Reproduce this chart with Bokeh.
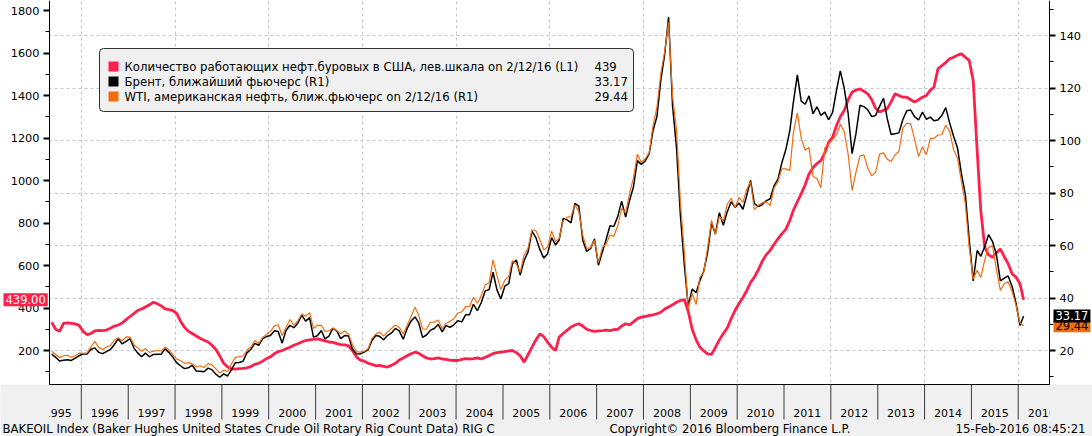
import pandas as pd
from bokeh.plotting import figure
from bokeh.models import (Range1d, LinearAxis, DatetimeAxis, SingleIntervalTicker, FixedTicker,
                          Grid, BoxAnnotation, Label, DatetimeTickFormatter)
from bokeh.embed import file_html
from bokeh.resources import INLINE

# ---------------- data (monthly, May 1995 .. Feb 12 2016) ----------------
rig = [
    333, 300, 290, 328, 330, 328, 325, 318,
    290, 275, 280, 292, 295, 294, 296, 305, 315, 320, 330, 345,
    360, 375, 388, 395, 405, 415, 427, 420, 410, 396, 392, 388,
    374, 335, 310, 290, 280, 268, 258, 248, 240, 225, 205, 175,
    140, 122, 114, 112, 115, 116, 118, 125, 135, 140, 150, 162,
    170, 185, 195, 200, 208, 215, 225, 232, 240, 247, 250, 252,
    255, 250, 245, 240, 238, 232, 228, 226, 222, 200, 170, 155,
    150, 140, 135, 128, 130, 125, 122, 130, 140, 155, 165, 175,
    185, 192, 188, 175, 165, 160, 162, 165, 160, 158, 155, 153,
    153, 158, 162, 160, 162, 165, 160, 168, 176, 185, 190, 192,
    195, 198, 200, 190, 175, 145, 180, 216, 250, 278, 265, 239,
    215, 200, 263, 280, 295, 310, 320, 326, 315, 300, 294, 290,
    292, 294, 296, 294, 298, 300, 315, 326, 320, 335, 350, 357,
    360, 365, 368, 373, 380, 395, 405, 415, 427, 435, 440, 385,
    300, 250, 216, 198, 184, 182, 215, 250, 280, 305, 350, 388,
    420, 450, 480, 520, 545, 580, 620, 650, 671, 700, 725, 749,
    770, 812, 860, 900, 937, 980, 1031, 1060, 1080, 1094, 1130, 1180,
    1204, 1260, 1300, 1329, 1380, 1416, 1425, 1431, 1420, 1408, 1380, 1340,
    1322, 1330, 1337, 1370, 1408, 1400, 1392, 1392, 1380, 1369, 1380, 1392,
    1400, 1425, 1439, 1525, 1540, 1555, 1573, 1580, 1590, 1596, 1580, 1565,
    1471, 1141, 859, 686, 650, 639, 660, 678, 640, 608, 560, 545,
    514, 439,
]
brent = [
    18.6, 17.4, 16.0, 16.3, 16.5, 16.2, 17.1, 18.0,
    18.7, 18.7, 20.4, 21.0, 19.3, 18.8, 19.6, 20.4, 22.3, 24.5, 22.5, 23.5,
    24.5, 20.9, 19.1, 17.6, 19.0, 17.6, 18.5, 18.6, 18.6, 20.6, 19.2, 17.4,
    15.3, 14.1, 13.1, 13.4, 14.4, 12.2, 12.1, 11.9, 13.3, 12.7, 11.0, 9.8,
    11.1, 10.3, 12.5, 15.3, 15.4, 15.9, 19.1, 20.4, 22.7, 22.0, 24.5, 25.3,
    25.7, 27.5, 27.2, 22.8, 27.6, 29.6, 28.7, 30.4, 33.5, 31.2, 32.5, 25.1,
    25.6, 27.6, 24.4, 25.5, 28.4, 27.5, 24.5, 25.7, 25.5, 20.5, 18.8, 18.7,
    19.4, 20.3, 23.7, 25.7, 25.4, 24.1, 25.7, 26.7, 28.4, 27.5, 24.3, 28.3,
    31.2, 32.8, 30.6, 25.0, 25.9, 27.7, 28.4, 29.9, 27.1, 29.6, 28.8, 29.8,
    31.3, 30.9, 33.6, 33.6, 37.6, 35.2, 38.2, 42.7, 43.2, 49.8, 43.1, 39.6,
    44.5, 45.5, 53.1, 54.5, 48.7, 54.4, 57.5, 65.5, 62.9, 58.5, 55.2, 56.9,
    63.0, 60.2, 62.1, 70.3, 69.8, 68.6, 76.0, 75.0, 62.0, 57.8, 58.8, 62.5,
    52.5, 57.6, 62.1, 67.5, 67.2, 71.1, 76.9, 70.8, 77.2, 82.3, 92.4, 90.9,
    92.2, 95.0, 103.6, 109.1, 122.8, 133.0, 147.0, 113.2, 97.2, 71.6, 52.5, 37.0,
    43.4, 42.0, 46.5, 50.2, 57.3, 68.6, 64.4, 72.5, 67.7, 72.8, 76.7, 74.5,
    76.2, 73.8, 78.8, 84.8, 76.0, 74.8, 75.6, 77.0, 77.8, 82.7, 85.3, 91.5,
    96.5, 103.7, 114.6, 125.0, 115.0, 113.8, 117.0, 110.2, 112.8, 109.6, 110.8, 107.9,
    110.7, 119.3, 126.5, 119.8, 110.3, 95.0, 102.6, 113.4, 112.9, 111.7, 109.1, 109.5,
    113.0, 116.1, 108.5, 102.3, 102.6, 102.9, 107.9, 111.3, 111.6, 109.1, 107.8, 110.8,
    108.1, 108.9, 107.5, 107.8, 109.5, 112.5, 106.8, 101.6, 97.1, 87.4, 79.4, 62.3,
    46.5, 58.1, 55.9, 59.5, 64.1, 61.5, 56.6, 46.5, 47.6, 48.4, 44.3, 38.0,
    29.5, 33.17,
]
wti = [
    19.7, 18.5, 17.3, 18.0, 18.2, 17.4, 18.0, 19.0,
    18.9, 19.1, 21.3, 23.5, 21.2, 20.4, 21.3, 21.9, 24.0, 24.9, 23.7, 25.2,
    25.1, 22.2, 21.0, 19.7, 20.8, 19.3, 19.7, 20.0, 19.8, 21.3, 20.2, 18.3,
    16.7, 16.1, 15.1, 15.4, 14.9, 13.7, 14.2, 13.5, 15.0, 14.5, 13.0, 11.4,
    12.5, 12.0, 14.7, 17.3, 17.7, 17.9, 20.1, 21.3, 23.8, 22.7, 25.0, 26.1,
    27.3, 29.4, 29.8, 25.7, 28.8, 31.8, 29.7, 31.3, 33.9, 33.1, 34.4, 28.4,
    29.6, 29.6, 27.3, 27.5, 28.6, 27.6, 26.4, 27.4, 26.2, 22.2, 19.6, 19.4,
    19.7, 20.7, 24.5, 26.2, 27.0, 25.5, 27.0, 28.4, 29.7, 28.8, 26.4, 29.5,
    33.0, 36.5, 33.5, 28.2, 28.1, 30.7, 30.8, 31.6, 28.3, 30.3, 31.1, 32.1,
    34.3, 34.7, 36.7, 36.8, 40.3, 38.0, 40.8, 44.9, 45.9, 54.5, 48.5, 43.2,
    46.8, 48.2, 54.2, 53.0, 49.8, 56.4, 59.0, 66.0, 65.6, 62.3, 58.3, 59.4,
    65.5, 61.6, 62.7, 69.4, 70.8, 71.0, 75.5, 73.0, 63.8, 58.9, 59.1, 62.0,
    53.5, 59.3, 60.4, 64.0, 63.5, 67.5, 74.1, 72.4, 79.9, 85.8, 94.8, 91.7,
    93.0, 95.4, 105.5, 112.6, 125.4, 134.0, 145.0, 116.7, 104.1, 76.6, 57.3, 36.0,
    41.7, 37.5, 47.9, 49.7, 59.0, 69.6, 64.2, 71.1, 69.4, 75.7, 78.0, 74.5,
    78.3, 76.4, 81.2, 84.3, 73.7, 75.3, 76.3, 76.6, 75.2, 81.9, 84.3, 89.2,
    89.2, 88.6, 102.9, 110.5, 100.9, 96.3, 97.3, 86.3, 85.5, 82.0, 97.2, 98.6,
    100.3, 102.2, 106.2, 103.3, 94.7, 81.0, 87.9, 94.1, 94.5, 89.5, 86.5, 87.9,
    94.8, 95.3, 92.9, 92.0, 94.5, 95.8, 104.7, 106.6, 106.3, 100.5, 93.9, 97.6,
    94.6, 100.8, 100.8, 102.1, 102.2, 105.8, 103.6, 96.5, 93.2, 84.4, 75.8, 59.3,
    47.2, 50.6, 47.8, 54.5, 59.3, 59.8, 50.9, 42.9, 45.5, 46.2, 42.4, 37.2,
    30.5, 29.44,
]
first_month = "1995-05-01"
last_date = "2016-02-12"
year_labels = [str(y) for y in range(1995, 2017)]
grid_years = list(range(1996, 2017, 2))

legend_names = [
    "Количество работающих нефт.буровых в США, лев.шкала on 2/12/16 (L1)",
    "Брент, ближайший фьючерс  (R1)",
    "WTI, американская нефть, ближ.фьючерс on 2/12/16 (R1)",
]
legend_values = ["439", "33.17", "29.44"]
footer_left = "BAKEOIL Index (Baker Hughes United States Crude Oil Rotary Rig Count Data) RIG C"
footer_mid = "Copyright\u00a9 2016 Bloomberg Finance L.P."
footer_right = "15-Feb-2016 08:45:21"

# ---------------- styling / layout ----------------
RED = "#ff1f4b"
BLACK = "#000000"
ORANGE = "#f26d0f"
GRAY = "#f0f0f0"
GRID = "#c3c7d1"
FONT = "DejaVu Sans"
W, H = 1092, 436
PLOT_L, PLOT_R, PLOT_B = 49, 1049, 384   # pixel edges of the dated plot area
STRIP_B = 419                            # bottom of the year strip


def sy(py):
    """canvas pixel row -> screen units measured from the frame bottom"""
    return H - py


def left_val(py):      # rig-count scale: 200 at row 350, 0.2125 px per rig
    return 200 - (py - 350) / 0.2125


def right_val(py):     # price scale: 20 at row 350, 2.625 px per dollar
    return 20 - (py - 350) / 2.625


plot_start = pd.Timestamp("1995-04-28")
plot_end = pd.Timestamp("2016-09-01")


def ms(t):
    return pd.Timestamp(t).timestamp() * 1000.0


ms_per_px = (ms(plot_end) - ms(plot_start)) / (PLOT_R - PLOT_L)
x_lo = ms(plot_start) - PLOT_L * ms_per_px
x_hi = ms(plot_end) + (W - PLOT_R) * ms_per_px

dates = list(pd.date_range(first_month, periods=len(rig) - 1, freq="MS") + pd.Timedelta(days=14))
dates.append(pd.Timestamp(last_date))

p = figure(width=W, height=H, x_axis_type="datetime", x_range=Range1d(x_lo, x_hi),
           y_range=Range1d(left_val(H), left_val(0)), output_backend="svg",
           toolbar_location=None, x_axis_location=None, y_axis_location=None,
           min_border_left=0, min_border_right=0, min_border_top=0, min_border_bottom=0,
           background_fill_color="white", border_fill_color="white", outline_line_color=None)
p.extra_y_ranges = {"r": Range1d(right_val(H), right_val(0))}
for g in p.select(type=Grid):
    g.visible = False

# ---- grids ----
p.add_layout(Grid(dimension=0, ticker=FixedTicker(ticks=[ms(f"{y}-01-01") for y in grid_years]),
                  grid_line_color=GRID, grid_line_dash="3 3"))
p.add_layout(Grid(dimension=1, y_range_name="r", ticker=SingleIntervalTicker(interval=20),
                  grid_line_color=GRID, grid_line_dash="3 3"))
# side margins stay white, the strip under the plot is grey
for l, r in ((0, PLOT_L), (PLOT_R, W)):
    p.add_layout(BoxAnnotation(left=l, right=r, bottom=sy(PLOT_B), top=sy(0), level="underlay",
                               left_units="screen", right_units="screen",
                               top_units="screen", bottom_units="screen",
                               fill_color="white", fill_alpha=1.0, line_color=None))
p.add_layout(BoxAnnotation(left=0, right=W, bottom=0, top=sy(PLOT_B), level="underlay",
                           left_units="screen", right_units="screen",
                           top_units="screen", bottom_units="screen",
                           fill_color=GRAY, fill_alpha=1.0, line_color=None))

# ---- series ----
p.line(dates, rig, color=RED, line_width=2.8)
p.line(dates, brent, color=BLACK, line_width=1.5, y_range_name="r")
p.line(dates, wti, color=ORANGE, line_width=1.2, y_range_name="r")

# ---- year boundaries in the strip ----
year_starts = [pd.Timestamp(f"{y}-01-01") for y in year_labels[1:]]
p.segment(x0=year_starts, y0=left_val(PLOT_B), x1=year_starts, y1=left_val(STRIP_B),
          color="#3a3a3a", line_width=1)

# ---- axes (fixed at the plot-area edges) ----
ax_l = LinearAxis(ticker=SingleIntervalTicker(interval=200, num_minor_ticks=2),
                  fixed_location=ms(plot_start), bounds=(left_val(PLOT_B), left_val(0)))
ax_r = LinearAxis(y_range_name="r", ticker=SingleIntervalTicker(interval=20, num_minor_ticks=2),
                  fixed_location=ms(plot_end), bounds=(right_val(PLOT_B), right_val(0)))
p.add_layout(ax_l, "left")
p.add_layout(ax_r, "right")
for ax in (ax_l, ax_r):
    ax.axis_line_color = "black"
    ax.major_tick_line_color = "black"
    ax.minor_tick_line_color = "black"
    ax.major_tick_line_width = 2
    ax.major_tick_out = 6
    ax.major_tick_in = 0
    ax.minor_tick_out = 4
    ax.minor_tick_in = 0
    ax.major_label_standoff = 4
    ax.major_label_text_font = FONT
    ax.major_label_text_font_size = "11.3px"
    ax.major_label_text_color = "black"

# bottom axis: axis line plus the year names in the middle of each year
yfmt = DatetimeTickFormatter(years="%Y", months="%Y", days="%Y")
ax_yr = DatetimeAxis(ticker=FixedTicker(ticks=[ms(f"{y}-07-02") for y in year_labels]),
                     formatter=yfmt, fixed_location=left_val(PLOT_B),
                     bounds=(ms(plot_start), ms(plot_end)),
                     major_tick_out=0, major_tick_in=0, minor_tick_out=0, minor_tick_in=0,
                     major_label_standoff=24, axis_line_color="black",
                     major_label_text_font=FONT, major_label_text_font_size="11px",
                     major_label_text_color="black")
p.add_layout(ax_yr, "below")
# year names are cut at the plot edges
for l, r in ((0, PLOT_L), (PLOT_R, W)):
    p.add_layout(BoxAnnotation(left=l, right=r, bottom=sy(STRIP_B), top=sy(PLOT_B) - 1,
                               left_units="screen", right_units="screen",
                               top_units="screen", bottom_units="screen",
                               fill_color=GRAY, fill_alpha=1.0, line_color=None))

# ---- legend ----
p.add_layout(BoxAnnotation(left=99, right=633, bottom=sy(111), top=sy(48),
                           left_units="screen", right_units="screen",
                           top_units="screen", bottom_units="screen",
                           fill_color=GRAY, fill_alpha=1.0, line_color="#303030",
                           line_width=1, line_alpha=1.0, border_radius=4))
for name, val, col, row in zip(legend_names, legend_values, [RED, BLACK, ORANGE], [66, 81, 96]):
    p.add_layout(BoxAnnotation(left=108, right=118, bottom=sy(row) - 5, top=sy(row) + 5,
                               left_units="screen", right_units="screen",
                               top_units="screen", bottom_units="screen",
                               fill_color=col, fill_alpha=1.0, line_color=None))
    p.add_layout(Label(x=124, y=sy(row), x_units="screen", y_units="screen", text=name,
                       text_font=FONT, text_font_size="11.7px", text_color="black",
                       text_baseline="middle", text_align="left"))
    p.add_layout(Label(x=594, y=sy(row), x_units="screen", y_units="screen", text=val,
                       text_font=FONT, text_font_size="11.7px", text_color="black",
                       text_baseline="middle", text_align="left"))

# ---- last-value tags ----
p.add_layout(Label(x=3, x_units="screen", y=rig[-1], y_units="data",
                   text=f"{rig[-1]:.2f}", text_align="left", text_baseline="middle",
                   text_font=FONT, text_font_size="11.5px", text_color="white",
                   background_fill_color=RED, padding=2))
p.add_layout(Label(x=PLOT_R + 4, x_units="screen", y=wti[-1], y_units="data", y_range_name="r",
                   text=f"{wti[-1]:.2f}", text_align="left", text_baseline="middle",
                   text_font=FONT, text_font_size="11.5px", text_color="black",
                   background_fill_color=ORANGE, padding=2))
p.add_layout(Label(x=PLOT_R + 4, x_units="screen", y=brent[-1], y_units="data", y_range_name="r",
                   text=f"{brent[-1]:.2f}", text_align="left", text_baseline="middle",
                   text_font=FONT, text_font_size="11.5px", text_color="white",
                   background_fill_color=BLACK, padding=2))

# ---- footer ----
for txt, xx, al in ((footer_left, 2, "left"), (footer_mid, 609, "left"), (footer_right, 1085, "right")):
    p.add_layout(Label(x=xx, y=sy(428), x_units="screen", y_units="screen", text=txt,
                       text_font=FONT, text_font_size="11.7px", text_color="black",
                       text_baseline="middle", text_align=al))

open("out.html", "w").write(file_html(p, INLINE))
